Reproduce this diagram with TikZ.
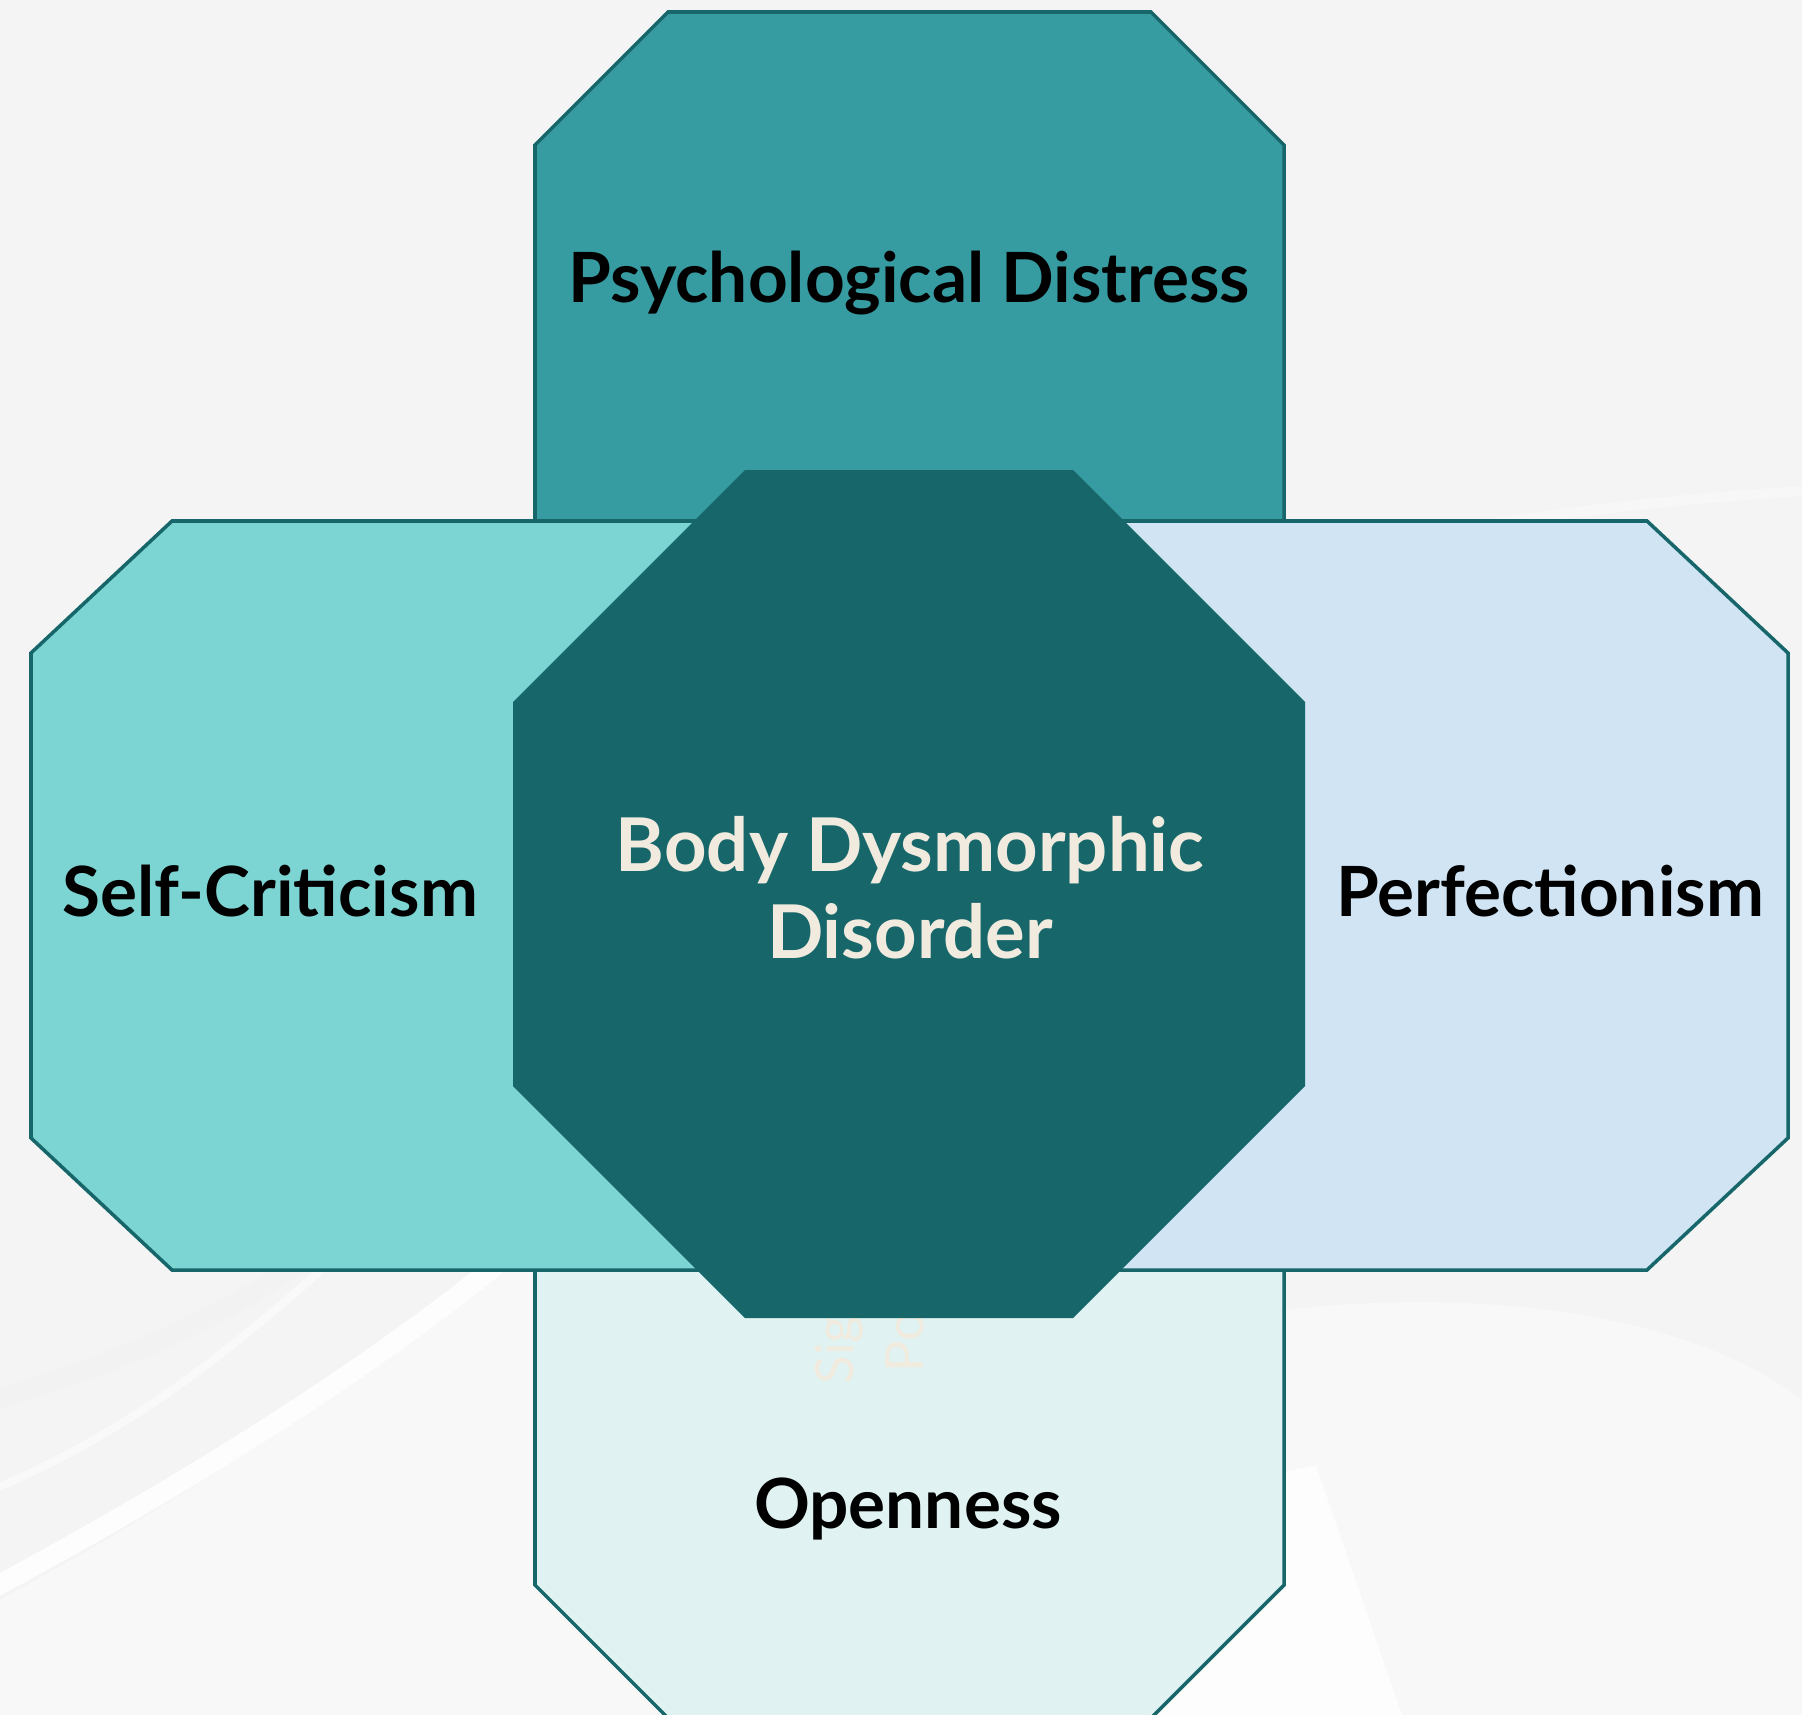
\documentclass[tikz,border=0pt]{standalone}
\usepackage{fontspec}
\setmainfont{Lato}
\usetikzlibrary{positioning}
\definecolor{bgGray}{HTML}{F4F4F4}
\definecolor{bgLight}{HTML}{F8F8F8}
\definecolor{tealDark}{HTML}{17666A}
\definecolor{tealMid}{HTML}{379BA2}
\definecolor{tealLight}{HTML}{7DD5D3}
\definecolor{skyPale}{HTML}{D0E4F4}
\definecolor{mintPale}{HTML}{E0F3F2}
\definecolor{creamText}{HTML}{F0EBDE}
\tikzset{
myOuter/.style={
	draw=tealDark, line width=1pt, line join=miter
}
, myHub/.style={
	fill=tealDark, draw=none
}
, myLabel/.style={
	anchor=base, inner sep=0pt, text=black,
	font=\fontsize{19.7}{23}\selectfont\bfseries
}
, myHubLabel/.style={
	inner sep=0pt, text=creamText, align=center,
	font=\fontsize{21.1}{24.7}\selectfont\bfseries
}
, myGhost/.style={
	rotate=90, anchor=base west, inner sep=0pt, text=creamText,
	font=\fontsize{15}{18}\selectfont
}
, mySwoosh/.style={line cap=round, draw=white}
}
% octagon: corners (#2,#3) and (#4,#5), cut #6 across and #7 down
\newcommand{\octagon}[7][]{%
	\draw[#1] ({#2+#6},#3) -- ({#4-#6},#3) -- (#4,{#3+#7}) -- (#4,{#5-#7})
	-- ({#4-#6},#5) -- ({#2+#6},#5) -- (#2,{#5-#7}) -- (#2,{#3+#7}) -- cycle;}

\begin{document}
\begin{tikzpicture}[x=0.01cm,y=-0.01cm]
	% background
	\fill[bgGray] (0,0) rectangle (1802,1715);
	\useasboundingbox (0,0) rectangle (1802,1715);
	\fill[bgLight] (1150,1315) -- (1284,1310) .. controls (1500,1285) and (1700,1320) .. (1802,1400)
		-- (1802,1715) -- (1402,1715) -- (1316,1465) -- (1150,1500) -- cycle;
	\fill[white!70!bgLight] (1150,1500) -- (1316,1465) -- (1402,1715) -- (1150,1715) -- cycle;
	\fill[bgLight] (0,1600) .. controls (200,1490) and (380,1370) .. (500,1268)
		-- (900,1268) -- (900,1715) -- (0,1715) -- cycle;
	\draw[mySwoosh, line width=0.2cm, opacity=0.85] (-20,1595) .. controls (200,1478) and (380,1360) .. (500,1262);
	\draw[black!5, line width=0.2cm, opacity=0.5] (-20,1405) .. controls (120,1362) and (220,1320) .. (300,1262);
	\draw[mySwoosh, line width=0.08cm, opacity=0.5] (-20,1495) .. controls (120,1438) and (220,1360) .. (330,1262);
	\draw[black!4, line width=0.15cm, opacity=0.5] (1260,525) .. controls (1450,490) and (1650,455) .. (1820,440);
	\draw[mySwoosh, line width=0.1cm, opacity=0.35] (1300,560) .. controls (1480,520) and (1650,500) .. (1820,490);

	% petals
	\octagon[myOuter,fill=tealMid]{535}{12}{1284}{759}{133}{133}
	\octagon[myOuter,fill=mintPale]{535}{968}{1284}{1718}{133}{133}
	\octagon[myOuter,fill=tealLight]{31}{521}{880}{1270}{141}{132}
	\octagon[myOuter,fill=skyPale]{939}{521}{1788}{1270}{141}{132}

	% faint rotated text, mostly under the hub
	\node[myGhost] (ghostA) at (853,1385) {Sig};
	\node[myGhost] (ghostB) at (923,1373) {Po};

	% hub
	\octagon[myHub]{513}{470}{1305}{1318}{232}{232}

	% labels
	\node[myLabel] (distress) at (909,302) {Psychological Distress};
	\node[myLabel] (critic) at (270,916) {Self-Criticism};
	\node[myLabel] (perfect) at (1550,916) {Perfectionism};
	\node[myLabel] (open) at (908,1528) {Openness};
	\node[myHubLabel] (bdd) at (910,888) {Body Dysmorphic\\Disorder};
\end{tikzpicture}
\end{document}
